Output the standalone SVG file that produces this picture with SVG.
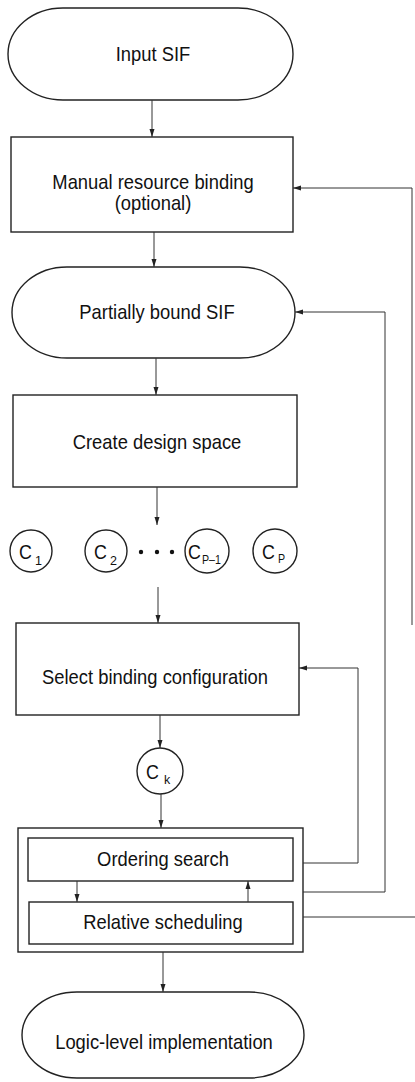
<svg xmlns="http://www.w3.org/2000/svg" width="415" height="1082" viewBox="0 0 415 1082">
<defs>
<marker id="ah" markerWidth="8" markerHeight="6" refX="8" refY="3" orient="auto" markerUnits="userSpaceOnUse">
<path d="M0,0.5 L8,3 L0,5.5 Z" fill="#222"/>
</marker>
</defs>
<style>
.shape{fill:#fff;stroke:#222;stroke-width:1.4}
.lbl{font-family:"Liberation Sans",Arial,sans-serif;font-size:20px;fill:#111;text-anchor:middle}
.c{font-family:"Liberation Sans",Arial,sans-serif;font-size:21px;fill:#111}
.sub{font-family:"Liberation Sans",Arial,sans-serif;font-size:12.5px;fill:#111}
.conn{fill:none;stroke:#333;stroke-width:1}
</style>
<rect width="415" height="1082" fill="#fff"/>
<g id="input-sif">
<rect class="shape" x="8" y="8" width="285" height="92" rx="55" ry="46"/>
<text class="lbl" transform="translate(153,61) scale(0.92,1)">Input SIF</text>
</g>
<g id="manual-binding">
<rect class="shape" x="11" y="137" width="282" height="95"/>
<text class="lbl" transform="translate(153,189) scale(0.92,1)">Manual resource binding</text>
<text class="lbl" transform="translate(153,210) scale(0.92,1)">(optional)</text>
</g>
<g id="partial-sif">
<rect class="shape" x="12" y="267" width="283" height="91" rx="55" ry="45.5"/>
<text class="lbl" transform="translate(157,319) scale(0.92,1)">Partially bound SIF</text>
</g>
<g id="create-space">
<rect class="shape" x="13" y="395" width="284" height="92"/>
<text class="lbl" transform="translate(157,449) scale(0.92,1)">Create design space</text>
</g>
<g id="c1">
<circle class="shape" cx="31" cy="551" r="21"/>
<text class="c" transform="translate(19,559) scale(0.85,1)">C</text><text class="sub" x="35" y="565">1</text>
</g>
<g id="c2">
<circle class="shape" cx="106" cy="551" r="21"/>
<text class="c" transform="translate(94,559) scale(0.85,1)">C</text><text class="sub" x="110" y="565">2</text>
</g>
<g id="dots">
<circle cx="141" cy="552" r="2.2" fill="#111"/>
<circle cx="157" cy="552" r="2.2" fill="#111"/>
<circle cx="172" cy="552" r="2.2" fill="#111"/>
</g>
<g id="cp1">
<circle class="shape" cx="207" cy="551" r="22"/>
<text class="c" transform="translate(188,559) scale(0.85,1)">C</text><text class="sub" transform="translate(202,564) scale(0.85,1)">P–1</text>
</g>
<g id="cp">
<circle class="shape" cx="275" cy="551" r="22"/>
<text class="c" transform="translate(262,559) scale(0.85,1)">C</text><text class="sub" transform="translate(278,563) scale(0.85,1)">P</text>
</g>
<g id="select-binding">
<rect class="shape" x="16" y="623" width="283" height="92"/>
<text class="lbl" transform="translate(155,684) scale(0.92,1)">Select binding configuration</text>
</g>
<g id="ck">
<circle class="shape" cx="160" cy="771" r="23"/>
<text class="c" transform="translate(146,779) scale(0.85,1)">C</text><text class="sub" x="164" y="784">k</text>
</g>
<g id="outer-box">
<rect class="shape" x="18" y="828" width="285" height="124"/>
</g>
<g id="ordering-search">
<rect class="shape" x="28" y="838" width="265" height="43"/>
<text class="lbl" transform="translate(163,866) scale(0.92,1)">Ordering search</text>
</g>
<g id="relative-scheduling">
<rect class="shape" x="29" y="902" width="264" height="42"/>
<text class="lbl" transform="translate(163,929) scale(0.92,1)">Relative scheduling</text>
</g>
<g id="logic-impl">
<rect class="shape" x="22" y="992" width="282" height="86" rx="55" ry="43"/>
<text class="lbl" transform="translate(164,1049) scale(0.92,1)">Logic-level implementation</text>
</g>
<g id="connectors">
<line class="conn" x1="152" y1="100" x2="152" y2="137" marker-end="url(#ah)"/>
<line class="conn" x1="154" y1="232" x2="154" y2="267" marker-end="url(#ah)"/>
<line class="conn" x1="156" y1="358" x2="156" y2="395" marker-end="url(#ah)"/>
<line class="conn" x1="157" y1="487" x2="157" y2="525" marker-end="url(#ah)"/>
<line class="conn" x1="158" y1="587" x2="158" y2="623" marker-end="url(#ah)"/>
<line class="conn" x1="160" y1="715" x2="160" y2="748" marker-end="url(#ah)"/>
<line class="conn" x1="161" y1="794" x2="161" y2="828" marker-end="url(#ah)"/>
<line class="conn" x1="77" y1="881" x2="77" y2="902" marker-end="url(#ah)"/>
<line class="conn" x1="248" y1="902" x2="248" y2="881" marker-end="url(#ah)"/>
<line class="conn" x1="163" y1="952" x2="163" y2="992" marker-end="url(#ah)"/>
<polyline class="conn" points="303,863 358,863 358,668 299,668" marker-end="url(#ah)"/>
<polyline class="conn" points="303,892 385,892 385,312 295,312" marker-end="url(#ah)"/>
<line class="conn" x1="303" y1="917" x2="415" y2="917"/>
<polyline class="conn" points="412,625 412,188 293,188" marker-end="url(#ah)"/>
</g>
</svg>
